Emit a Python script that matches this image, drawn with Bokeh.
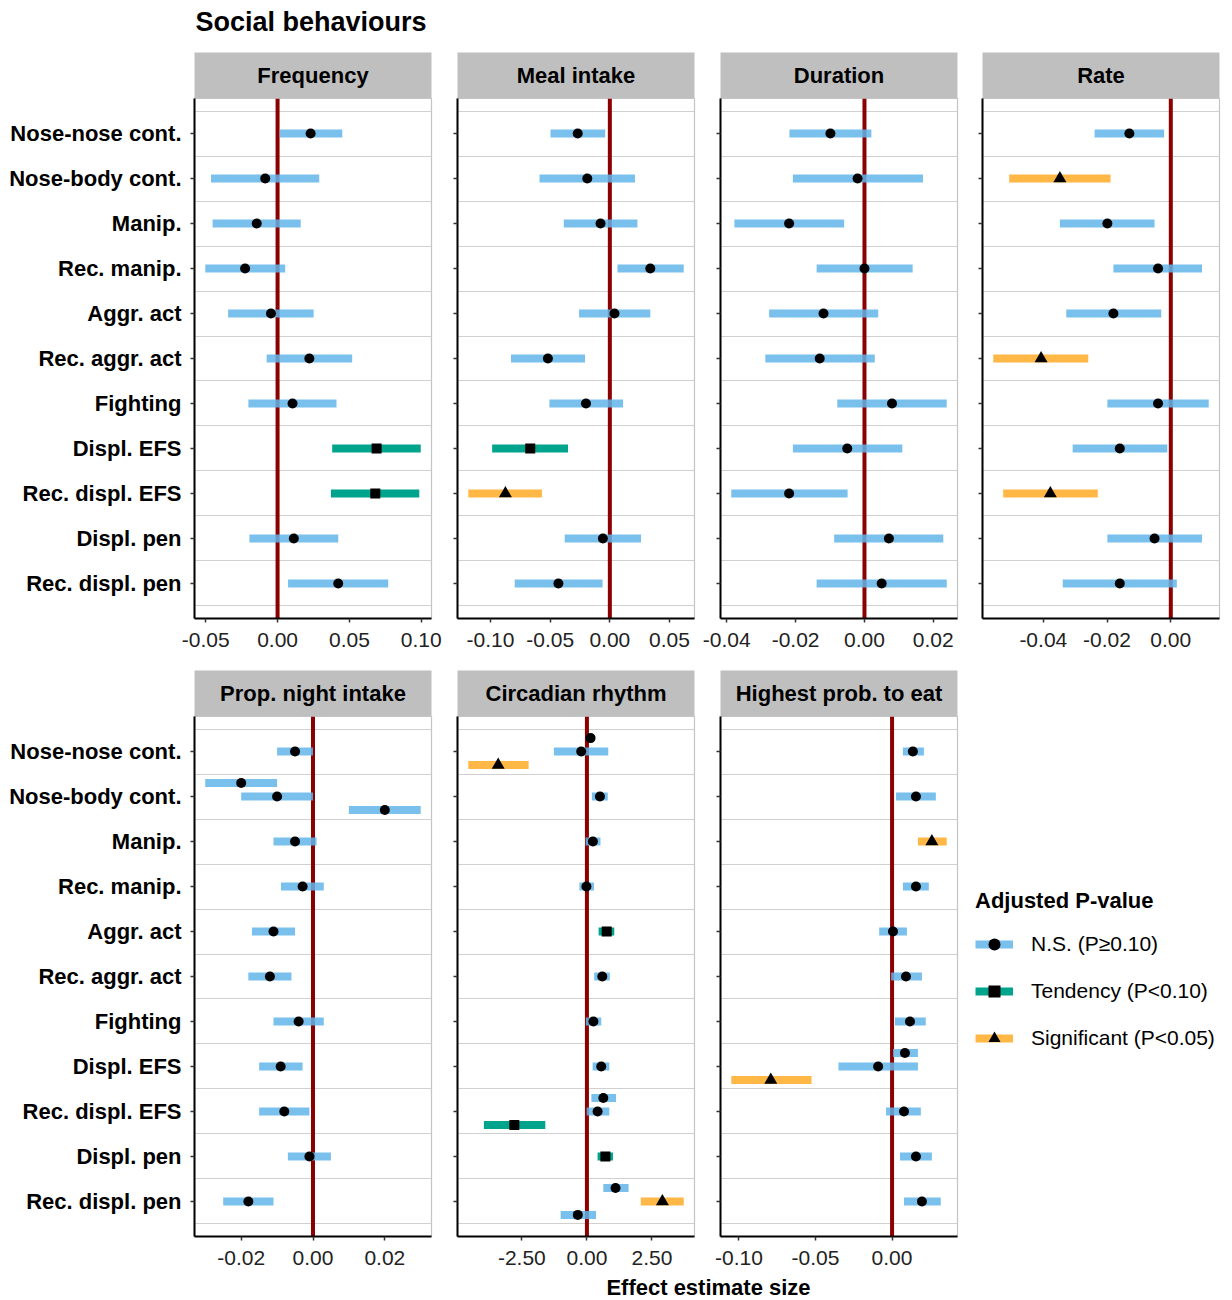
from bokeh.plotting import figure
from bokeh.models import (ColumnDataSource, Range1d, FixedTicker, NumeralTickFormatter,
                          Span, Legend, LegendItem)
from bokeh.layouts import column, row
from bokeh.core.properties import value
from bokeh.embed import file_html
from bokeh.resources import INLINE

FONT = "Liberation Sans"

# ---------------- data ----------------
behaviours = ["Nose-nose cont.", "Nose-body cont.", "Manip.", "Rec. manip.", "Aggr. act",
              "Rec. aggr. act", "Fighting", "Displ. EFS", "Rec. displ. EFS", "Displ. pen",
              "Rec. displ. pen"]

sig_levels = ["ns", "tend", "sig"]
sig_labels = ["N.S. (P\u22650.10)", "Tendency (P<0.10)", "Significant (P<0.05)"]

# Frequency
freq_beh = behaviours
freq_est = [0.023, -0.0086, -0.0145, -0.0226, -0.0046, 0.0221, 0.0104, 0.0689, 0.068, 0.0113, 0.0422]
freq_lo = [0.0016, -0.0463, -0.0452, -0.0503, -0.0344, -0.0076, -0.0203, 0.038, 0.0371, -0.0196, 0.0073]
freq_hi = [0.045, 0.029, 0.0161, 0.0053, 0.0251, 0.0519, 0.041, 0.0996, 0.0986, 0.0422, 0.077]
freq_sig = ["ns", "ns", "ns", "ns", "ns", "ns", "ns", "tend", "tend", "ns", "ns"]
freq_ticks = [-0.05, 0.0, 0.05, 0.10]

# Meal intake
meal_beh = behaviours
meal_est = [-0.0269, -0.0189, -0.0078, 0.0339, 0.0039, -0.0519, -0.02, -0.0667, -0.0875, -0.0058, -0.0431]
meal_lo = [-0.0497, -0.0589, -0.0386, 0.0064, -0.0258, -0.0828, -0.0506, -0.0986, -0.1186, -0.0378, -0.0797]
meal_hi = [-0.0039, 0.0211, 0.0231, 0.0619, 0.0339, -0.0208, 0.0111, -0.035, -0.0569, 0.0261, -0.0061]
meal_sig = ["ns", "ns", "ns", "ns", "ns", "ns", "ns", "tend", "sig", "ns", "ns"]
meal_ticks = [-0.10, -0.05, 0.0, 0.05]

# Duration
dur_beh = behaviours
dur_est = [-0.0099, -0.002, -0.0219, 0.0, -0.0119, -0.013, 0.008, -0.005, -0.0219, 0.0071, 0.005]
dur_lo = [-0.0218, -0.0208, -0.0378, -0.0139, -0.0277, -0.0288, -0.0079, -0.0208, -0.0387, -0.0088, -0.0139]
dur_hi = [0.002, 0.017, -0.0059, 0.014, 0.004, 0.003, 0.0239, 0.011, -0.0049, 0.0229, 0.0239]
dur_sig = ["ns"] * 11
dur_ticks = [-0.04, -0.02, 0.0, 0.02]

# Rate
rate_beh = behaviours
rate_est = [-0.013, -0.0348, -0.0199, -0.004, -0.018, -0.0407, -0.004, -0.016, -0.0378, -0.0051, -0.016]
rate_lo = [-0.0239, -0.0507, -0.0348, -0.018, -0.0328, -0.0557, -0.0199, -0.0308, -0.0526, -0.0199, -0.0339]
rate_hi = [-0.0021, -0.0189, -0.0051, 0.0098, -0.003, -0.0259, 0.0119, -0.0011, -0.0229, 0.0098, 0.0019]
rate_sig = ["ns", "sig", "ns", "ns", "ns", "sig", "ns", "ns", "sig", "ns", "ns"]
rate_ticks = [-0.04, -0.02, 0.0]

# Prop. night intake
night_beh = ["Nose-nose cont.", "Nose-body cont.", "Nose-body cont.", "Nose-body cont.", "Manip.",
             "Rec. manip.", "Aggr. act", "Rec. aggr. act", "Fighting", "Displ. EFS",
             "Rec. displ. EFS", "Displ. pen", "Rec. displ. pen"]
night_est = [-0.005, -0.02, -0.01, 0.02, -0.005, -0.0029, -0.011, -0.012, -0.004, -0.009, -0.008, -0.001, -0.018]
night_lo = [-0.01, -0.03, -0.02, 0.01, -0.011, -0.0089, -0.017, -0.018, -0.011, -0.015, -0.015, -0.007, -0.025]
night_hi = [0.0, -0.01, 0.0, 0.03, 0.001, 0.003, -0.005, -0.006, 0.003, -0.0029, -0.001, 0.005, -0.011]
night_sig = ["ns"] * 13
night_ticks = [-0.02, 0.0, 0.02]

# Circadian rhythm
circ_beh = ["Nose-nose cont.", "Nose-nose cont.", "Nose-nose cont.", "Nose-body cont.", "Manip.",
            "Rec. manip.", "Aggr. act", "Rec. aggr. act", "Fighting", "Displ. EFS",
            "Rec. displ. EFS", "Rec. displ. EFS", "Rec. displ. EFS", "Displ. pen",
            "Rec. displ. pen", "Rec. displ. pen", "Rec. displ. pen"]
circ_est = [0.14, -0.22, -3.41, 0.5, 0.23, -0.02, 0.76, 0.59, 0.25, 0.55, 0.63, 0.41, -2.79, 0.71, 1.1, 2.9, -0.35]
circ_lo = [0.05, -1.27, -4.56, 0.19, -0.05, -0.29, 0.45, 0.28, -0.04, 0.22, 0.17, -0.01, -3.96, 0.41, 0.63, 2.07, -1.01]
circ_hi = [0.25, 0.82, -2.24, 0.8, 0.52, 0.27, 1.05, 0.88, 0.55, 0.86, 1.12, 0.86, -1.6, 1.0, 1.6, 3.72, 0.35]
circ_sig = ["ns", "ns", "sig", "ns", "ns", "ns", "tend", "ns", "ns", "ns", "ns", "ns", "tend", "tend", "ns", "sig", "ns"]
circ_ticks = [-2.5, 0.0, 2.5]

# Highest prob. to eat
high_beh = ["Nose-nose cont.", "Nose-body cont.", "Manip.", "Rec. manip.", "Aggr. act",
            "Rec. aggr. act", "Fighting", "Displ. EFS", "Displ. EFS", "Displ. EFS",
            "Rec. displ. EFS", "Displ. pen", "Rec. displ. pen"]
high_est = [0.0136, 0.0156, 0.026, 0.0156, 0.0006, 0.0091, 0.0117, 0.0084, -0.0091, -0.0792, 0.0078, 0.0156, 0.0195]
high_lo = [0.0071, 0.0026, 0.0169, 0.0071, -0.0084, -0.0006, 0.0019, 0.0006, -0.035, -0.105, -0.0039, 0.0052, 0.0078]
high_hi = [0.0208, 0.0286, 0.0357, 0.024, 0.0097, 0.0195, 0.022, 0.0169, 0.0169, -0.0526, 0.0188, 0.026, 0.0318]
high_sig = ["ns", "ns", "sig", "ns", "ns", "ns", "ns", "ns", "ns", "sig", "ns", "ns", "ns"]
high_ticks = [-0.10, -0.05, 0.0]

# ---------------- styles ----------------
COLORS = {"ns": "#62B5EA", "tend": "#00A38C", "sig": "#FFB845"}
ALPHAS = {"ns": 0.85, "tend": 1.0, "sig": 1.0}
MARKERS = {"ns": "circle", "tend": "square", "sig": "triangle"}
SIZES = {"ns": 10, "tend": 10, "sig": 13}
DODGE = 0.3
FRAME_W = 237
FRAME_H = 520


def text_fig(left, width, height, right=0):
    f = figure(frame_width=width, frame_height=height, x_range=Range1d(0, 1), y_range=Range1d(0, 1),
               min_border_left=left, min_border_right=right, min_border_top=0, min_border_bottom=0,
               x_axis_location=None, y_axis_location=None, output_backend="svg",
               toolbar_location=None, title=None)
    f.grid.visible = False
    f.outline_line_color = None
    f.background_fill_color = "white"
    f.border_fill_color = "white"
    return f


def make_strip(name, left, right):
    s = text_fig(left, FRAME_W, 46, right)
    s.background_fill_color = "#BFBFBF"
    s.text(x=[0.5], y=[0.5], text=[name], text_align="center", text_baseline="middle",
           text_font=value(FONT), text_font_style="bold", text_font_size="22px", text_color="black")
    return s


def make_panel(beh, est, lo, hi, sig, ticks, left, right, bottom, show_labels):
    counts = {}
    for b in beh:
        counts[b] = counts.get(b, 0) + 1
    seen = {}
    ys = []
    for b in beh:
        n = counts[b]
        k = seen.get(b, 0)
        seen[b] = k + 1
        ys.append(behaviours.index(b) + 1 + (k - (n - 1) / 2) * DODGE)
    allv = list(lo) + list(hi) + [0.0]
    vmin, vmax = min(allv), max(allv)
    pad = 0.05 * (vmax - vmin)
    src = ColumnDataSource(dict(
        y=ys, est=est, lo=lo, hi=hi,
        color=[COLORS[s] for s in sig],
        alpha=[ALPHAS[s] for s in sig],
        marker=[MARKERS[s] for s in sig],
        size=[SIZES[s] for s in sig],
    ))
    p = figure(frame_width=FRAME_W, frame_height=FRAME_H,
               x_range=Range1d(vmin - pad, vmax + pad), y_range=Range1d(11.78, 0.22),
               min_border_left=left, min_border_right=right, min_border_top=0,
               min_border_bottom=bottom, output_backend="svg", toolbar_location=None, title=None)
    p.background_fill_color = "white"
    p.border_fill_color = "white"
    p.outline_line_color = "#C4C4C4"
    p.outline_line_width = 1.2
    p.xgrid.visible = False
    p.ygrid.ticker = FixedTicker(ticks=[i + 0.5 for i in range(12)])
    p.ygrid.grid_line_color = "#D0D0D0"
    p.ygrid.grid_line_width = 1.2

    for ax in (p.xaxis[0], p.yaxis[0]):
        ax.axis_line_color = "black"
        ax.axis_line_width = 2
        ax.major_tick_line_color = "#333333"
        ax.major_tick_line_width = 1.5
        ax.major_tick_out = 4
        ax.major_tick_in = 0
        ax.minor_tick_line_color = None
        ax.major_label_text_font = FONT

    p.xaxis.ticker = FixedTicker(ticks=ticks)
    p.xaxis.formatter = NumeralTickFormatter(format="0.00")
    p.xaxis.major_label_text_font_size = "21px"
    p.xaxis.major_label_text_color = "#222222"
    p.xaxis.major_label_standoff = 10

    p.yaxis.ticker = FixedTicker(ticks=list(range(1, 12)))
    if show_labels:
        p.yaxis.major_label_overrides = {i + 1: b for i, b in enumerate(behaviours)}
        p.yaxis.major_label_text_font_size = "22px"
        p.yaxis.major_label_text_font_style = "bold"
        p.yaxis.major_label_text_color = "black"
        p.yaxis.major_label_standoff = 9
    else:
        p.yaxis.major_label_overrides = {i + 1: "" for i in range(11)}
        p.yaxis.major_label_text_font_size = "1px"
        p.yaxis.major_label_standoff = 0

    p.add_layout(Span(location=0, dimension="height", line_color="#8B0000", line_width=4,
                      level="underlay"))
    p.segment(x0="lo", y0="y", x1="hi", y1="y", source=src, line_color="color",
              line_width=8, line_alpha="alpha")
    p.scatter(x="est", y="y", marker="marker", size="size", source=src,
              fill_color="black", line_color=None)
    return p


def panel_col(title, data, left, right, bottom, show_labels):
    beh, est, lo, hi, sig, ticks = data
    return column(make_strip(title, left, right),
                  make_panel(beh, est, lo, hi, sig, ticks, left, right, bottom, show_labels))


# ---------------- layout ----------------
title_fig = text_fig(195, 1029, 52)
title_fig.text(x=[0], y=[0.58], text=["Social behaviours"], text_align="left",
               text_baseline="middle", text_font=value(FONT), text_font_style="bold",
               text_font_size="27px", text_color="black")

top = row(
    panel_col("Frequency", (freq_beh, freq_est, freq_lo, freq_hi, freq_sig, freq_ticks), 194, 20, 52, True),
    panel_col("Meal intake", (meal_beh, meal_est, meal_lo, meal_hi, meal_sig, meal_ticks), 6, 3, 52, False),
    panel_col("Duration", (dur_beh, dur_est, dur_lo, dur_hi, dur_sig, dur_ticks), 23, 3, 52, False),
    panel_col("Rate", (rate_beh, rate_est, rate_lo, rate_hi, rate_sig, rate_ticks), 22, 5, 52, False),
)

# legend figure (legend handles are kept outside the visible range)
lg = figure(frame_width=249, frame_height=384, x_range=Range1d(0, 1), y_range=Range1d(0, 1),
            min_border_left=14, min_border_right=0, min_border_top=218, min_border_bottom=0,
            x_axis_location=None, y_axis_location=None, output_backend="svg",
            toolbar_location=None, title=None)
lg.grid.visible = False
lg.outline_line_color = None
items = []
for lev, lab in zip(sig_levels, sig_labels):
    r1 = lg.segment(x0=[-3], y0=[-3], x1=[-2], y1=[-3], line_color=COLORS[lev], line_width=8,
                    line_alpha=ALPHAS[lev])
    r2 = lg.scatter(x=[-3], y=[-3], marker=MARKERS[lev], size=SIZES[lev], fill_color="black",
                    line_color=None)
    items.append(LegendItem(label=lab, renderers=[r1, r2]))
legend = Legend(items=items, location="top_left", title="Adjusted P-value")
legend.title_text_font = FONT
legend.title_text_font_size = "22px"
legend.title_text_font_style = "bold"
legend.title_text_color = "black"
legend.title_standoff = 15
legend.label_text_font = FONT
legend.label_text_font_size = "21px"
legend.label_text_color = "black"
legend.glyph_width = 38
legend.glyph_height = 30
legend.label_height = 30
legend.label_standoff = 18
legend.spacing = 17
legend.padding = 0
legend.margin = 0
legend.border_line_color = None
legend.background_fill_alpha = 0
lg.add_layout(legend)

bottom = row(
    panel_col("Prop. night intake", (night_beh, night_est, night_lo, night_hi, night_sig, night_ticks), 194, 20, 36, True),
    panel_col("Circadian rhythm", (circ_beh, circ_est, circ_lo, circ_hi, circ_sig, circ_ticks), 6, 6, 36, False),
    panel_col("Highest prob. to eat", (high_beh, high_est, high_lo, high_hi, high_sig, high_ticks), 20, 4, 36, False),
    lg,
)

xlab_fig = text_fig(194, 1026, 28, 4)
xlab_fig.text(x=[0.5], y=[0.45], text=["Effect estimate size"], text_align="center",
              text_baseline="middle", text_font=value(FONT), text_font_style="bold",
              text_font_size="22px", text_color="black")

layout = column(title_fig, top, bottom, xlab_fig)

open("out.html", "w").write(file_html(layout, INLINE))
